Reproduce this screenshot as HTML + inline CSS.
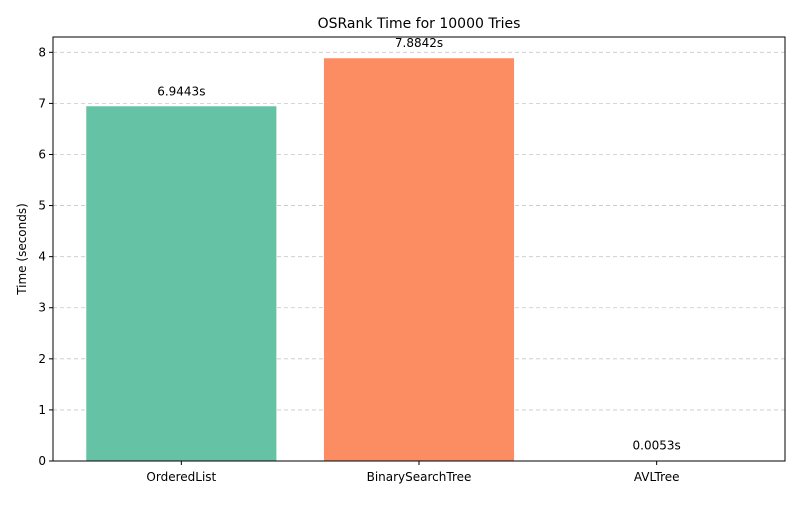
<!DOCTYPE html>
<html><head><meta charset="utf-8"><style>
body{margin:0;background:#fff;}
svg text{font-family:"DejaVu Sans","Liberation Sans",sans-serif;fill:#000;}
</style></head><body>
<svg id="chart" width="800" height="500">
<text x="419" y="28" font-size="14" text-anchor="middle">OSRank Time for 10000 Tries</text>
<text transform="translate(26,249) rotate(-90)" font-size="12" text-anchor="middle">Time (seconds)</text>
<g id="grid"></g><g id="bars"></g><g id="axes"></g>
</svg>
<script>
const categories=["OrderedList","BinarySearchTree","AVLTree"];
const values=[6.9443,7.8842,0.0053];
const labels=["6.9443s","7.8842s","0.0053s"];
const colors=["#66c2a5","#fc8d62","#8da0cb"];
const yTicks=[0,1,2,3,4,5,6,7,8];
const L=53,R=785,T=37,B=461,ymax=8.30,xmin=-0.54,xmax=2.54;
const ys=v=>B-(v/ymax)*(B-T);
const xs=i=>L+(i-xmin)/(xmax-xmin)*(R-L);
const bw=0.8*(R-L)/(xmax-xmin);
const NS="http://www.w3.org/2000/svg";
function mk(t,a,p){const e=document.createElementNS(NS,t);for(const k in a)e.setAttribute(k,a[k]);p.appendChild(e);return e;}
const grid=document.getElementById('grid'),bars=document.getElementById('bars'),axes=document.getElementById('axes');
yTicks.forEach(v=>{
 const y=ys(v);
 const g=mk('line',{x1:L,x2:R,y1:y,y2:y,stroke:'#c8c8c8','stroke-dasharray':'4,3','stroke-width':0.8},grid);
 
 
 const t=mk('line',{x1:L-4,x2:L,y1:y,y2:y,stroke:'#000'},axes);
 
 
 const tx=mk('text',{x:L-7,y:y+4,'font-size':12,'text-anchor':'end'},axes);
 tx.textContent=v;
 
 
});
categories.forEach((c,i)=>{
 const cx=xs(i),y=ys(values[i]);
 const r=mk('rect',{x:cx-bw/2,y:y,width:bw,height:B-y,fill:colors[i]},bars);
 
 
 const lb=mk('text',{x:cx,y:y-11,'font-size':12,'text-anchor':'middle'},bars);
 lb.textContent=labels[i];
 
 
 const t=mk('line',{x1:cx,x2:cx,y1:B,y2:B+4,stroke:'#000'},axes);
 
 
 const tx=mk('text',{x:cx,y:B+20,'font-size':12,'text-anchor':'middle'},axes);
 tx.textContent=c;
 
 
});
const fr=mk('rect',{x:L,y:T,width:R-L,height:B-T,fill:'none',stroke:'#000','stroke-width':1},axes);


</script>
</body></html>
